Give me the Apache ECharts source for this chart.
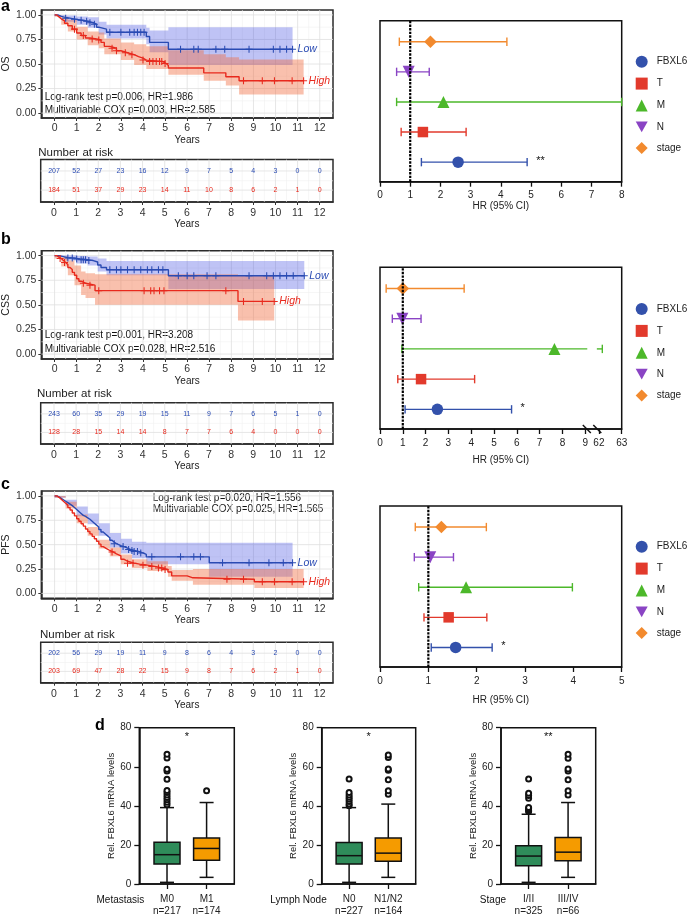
<!DOCTYPE html>
<html><head><meta charset="utf-8">
<script src="https://cdn.jsdelivr.net/npm/echarts@6/dist/echarts.min.js"></script>
<style>html,body{margin:0;padding:0;background:#fff}#c{width:688px;height:917px}</style>
</head><body><div id="c"></div>
<script>
// ================= DATA =================
const years = [0,1,2,3,4,5,6,7,8,9,10,11,12];
const survTicks = [0,0.25,0.5,0.75,1];

// Number at risk tables
const riskA_low  = [207,52,27,23,16,12,9,7,5,4,3,0,0];
const riskA_high = [184,51,37,29,23,14,11,10,8,6,2,1,0];
const riskB_low  = [243,60,35,29,19,15,11,9,7,6,5,1,0];
const riskB_high = [128,28,15,14,14,8,7,7,6,4,0,0,0];
const riskC_low  = [202,56,29,19,11,9,8,6,4,3,2,0,0];
const riskC_high = [203,69,47,28,22,15,9,8,7,6,2,1,0];

// KM step curves [time, survival]
const osLow = [[0,1],[0.15,0.985],[0.3,0.975],[0.5,0.965],[0.75,0.955],[1.0,0.945],[1.25,0.935],[1.5,0.92],[1.75,0.905],[1.9,0.875],[2.0,0.855],[2.35,0.823],[4.15,0.78],[4.3,0.72],[5.15,0.65],[10.77,0.65]];
const osHigh = [[0,1],[0.1,0.98],[0.2,0.96],[0.3,0.94],[0.45,0.915],[0.6,0.89],[0.8,0.855],[1.0,0.815],[1.2,0.79],[1.4,0.765],[1.6,0.755],[1.9,0.745],[2.1,0.72],[2.25,0.68],[2.5,0.66],[2.8,0.635],[3.0,0.615],[3.3,0.595],[3.6,0.575],[3.8,0.56],[4.0,0.54],[4.15,0.525],[4.9,0.505],[5.05,0.485],[5.15,0.46],[6.75,0.41],[7.75,0.37],[8.35,0.33],[11.27,0.33]];
const osLowCens = [0.5,0.9,1.2,1.45,1.6,1.8,2.5,3.0,3.4,3.6,3.75,3.9,4.05,5.7,6.3,6.5,7.3,7.7,8.8,9.9,10.2,10.5,10.77];
const osHighCens = [0.9,1.3,1.7,2.0,2.6,2.8,3.2,3.5,4.0,4.3,4.45,4.6,4.75,4.85,5.0,8.55,9.4,9.95,10.75,11.27];
// CI bands [time, lower, upper]; last entry = end time
const osLowBand = [[0,0.99,1],[0.5,0.93,0.995],[1.0,0.9,0.985],[1.5,0.87,0.975],[2.0,0.8,0.93],[2.35,0.76,0.9],[4.15,0.7,0.87],[4.3,0.62,0.84],[5.15,0.49,0.875],[10.77]];
const osHighBand = [[0,0.98,1],[0.3,0.9,0.98],[0.6,0.83,0.95],[1.0,0.75,0.88],[1.5,0.69,0.83],[2.0,0.66,0.82],[2.25,0.6,0.76],[3.0,0.54,0.72],[3.6,0.49,0.7],[4.15,0.45,0.68],[5.15,0.39,0.64],[6.75,0.33,0.6],[7.75,0.28,0.57],[8.35,0.19,0.545],[11.27]];

const cssLow = [[0,1],[0.2,0.99],[0.4,0.98],[0.6,0.975],[0.9,0.965],[1.2,0.958],[1.5,0.95],[1.75,0.935],[1.95,0.905],[2.1,0.88],[2.35,0.857],[5.15,0.795],[11.3,0.795]];
const cssHigh = [[0,1],[0.1,0.985],[0.2,0.97],[0.3,0.95],[0.4,0.93],[0.5,0.91],[0.6,0.88],[0.7,0.86],[0.8,0.83],[0.9,0.8],[1.0,0.765],[1.1,0.74],[1.2,0.72],[1.4,0.7],[1.83,0.644],[8.3,0.535],[9.94,0.535]];
const cssLowCens = [0.6,0.8,1.0,1.2,1.3,1.4,1.55,2.5,2.8,3.0,3.3,3.6,3.9,4.2,4.4,4.7,4.9,5.6,6.0,6.3,6.9,7.3,8.8,9.6,9.9,10.2,10.5,10.8,11.3];
const cssHighCens = [0.25,0.45,1.3,1.6,2.0,4.05,4.35,4.5,4.75,4.95,7.75,8.55,9.4,9.94];
const cssLowBand = [[0,0.99,1],[0.5,0.95,1.0],[1.0,0.92,0.995],[1.5,0.9,0.99],[1.95,0.84,0.97],[2.35,0.8,0.945],[5.15,0.66,0.945],[11.3]];
const cssHighBand = [[0,0.97,1],[0.3,0.89,0.99],[0.6,0.8,0.95],[0.9,0.7,0.9],[1.2,0.6,0.84],[1.4,0.57,0.82],[1.83,0.5,0.81],[8.3,0.34,0.8],[9.94]];

const pfsLow = [[0,1],[0.1,0.99],[0.2,0.975],[0.3,0.96],[0.4,0.945],[0.5,0.93],[0.6,0.915],[0.7,0.9],[0.8,0.88],[0.9,0.86],[1.0,0.84],[1.1,0.82],[1.2,0.8],[1.3,0.79],[1.4,0.775],[1.5,0.76],[1.6,0.74],[1.7,0.72],[1.8,0.7],[1.9,0.68],[2.0,0.655],[2.1,0.63],[2.2,0.61],[2.3,0.59],[2.4,0.57],[2.5,0.545],[2.6,0.525],[2.7,0.51],[2.8,0.5],[2.9,0.49],[3.0,0.48],[3.15,0.465],[3.3,0.45],[3.45,0.44],[3.6,0.43],[3.8,0.415],[4.0,0.4],[4.15,0.375],[7.0,0.315],[10.77,0.315]];
const pfsHigh = [[0,1],[0.1,0.985],[0.2,0.965],[0.3,0.945],[0.4,0.925],[0.5,0.905],[0.6,0.88],[0.7,0.855],[0.8,0.825],[0.9,0.795],[1.0,0.765],[1.1,0.74],[1.2,0.715],[1.3,0.69],[1.4,0.66],[1.5,0.635],[1.6,0.61],[1.7,0.585],[1.8,0.56],[1.9,0.535],[2.0,0.505],[2.1,0.48],[2.2,0.46],[2.35,0.44],[2.5,0.425],[2.65,0.405],[2.8,0.385],[3.0,0.35],[3.15,0.33],[3.3,0.31],[3.6,0.3],[3.85,0.29],[4.2,0.275],[4.6,0.26],[4.9,0.245],[5.13,0.22],[5.3,0.18],[6.0,0.16],[6.26,0.145],[9.04,0.12],[11.27,0.12]];
const pfsLowCens = [2.7,3.1,3.35,3.5,3.6,3.75,3.9,4.4,5.7,6.3,6.6,7.6,8.8,9.7,10.35,10.77];
const pfsHighCens = [2.6,3.3,3.55,4.0,4.4,4.7,4.85,5.0,7.8,8.55,9.4,9.95,10.75,11.27];
const pfsLowBand = [[0,0.98,1],[0.5,0.9,0.96],[1.0,0.79,0.89],[1.5,0.71,0.82],[2.0,0.59,0.72],[2.5,0.47,0.62],[3.0,0.41,0.56],[3.5,0.36,0.53],[4.15,0.3,0.52],[7.0,0.17,0.52],[10.77]];
const pfsHighBand = [[0,0.98,1],[0.5,0.87,0.94],[1.0,0.72,0.81],[1.5,0.59,0.68],[2.0,0.46,0.55],[2.5,0.38,0.47],[3.0,0.3,0.4],[3.5,0.26,0.35],[4.2,0.23,0.33],[5.13,0.17,0.28],[5.3,0.13,0.24],[6.26,0.09,0.25],[9.04,0.055,0.25],[11.27]];

// Forest plots (row order bottom->top)
const forestVars = ['FBXL6','T','M','N','stage'];
const forestA_hr = [2.585,1.42,2.1,0.95,1.67];
const forestA_lo = [1.37,0.7,0.55,0.55,0.64];
const forestA_hi = [4.87,2.85,8.0,1.63,4.2];
const forestB_hr = [2.516,1.8,7.65,0.98,1.0];
const forestB_lo = [1.1,0.78,0.96,0.54,0.27];
const forestB_hi = [5.77,4.15,62.15,1.8,3.69];
const forestC_hr = [1.565,1.42,1.78,1.04,1.27];
const forestC_lo = [1.06,0.91,0.8,0.71,0.73];
const forestC_hi = [2.32,2.21,3.98,1.52,2.2];
const forestStars = ['**','*','*'];
const forestTicksA = [0,1,2,3,4,5,6,7,8];
const forestTicksB = [0,1,2,3,4,5,6,7,8,9,62,63];
const forestTicksC = [0,1,2,3,4,5];

// Boxplots: [min, q1, median, q3, max]
const boxTitles = ['Metastasis','Lymph Node','Stage'];
const boxGroups = [['M0','M1'],['N0','N1/N2'],['I/II','III/IV']];
const boxN = [[217,174],[227,164],[325,66]];
const boxStats = [
  [[0.85,10.2,15.0,21.4,39.1],[3.4,12.1,18.2,23.5,41.7]],
  [[0.85,10.2,14.5,21.3,39.1],[3.4,11.6,15.8,23.5,40.9]],
  [[0.85,9.4,14.3,19.6,35.7],[3.4,11.9,16.3,23.8,41.7]]];
const boxOutliers = [
  [[40.5,41.9,43.1,44.3,45.6,46.8,47.8,53.6,57.9,58.7,64.5,66.4],[47.7]],
  [[40,41,42.2,43.4,44.4,45.6,46.8,53.8],[46,47.7,53.3,58.2,58.9,64.7,66]],
  [[37.1,37.6,38.5,39.1,43.9,45.3,46.5,53.8],[45.6,47.7,53.3,57.9,58.9,64.3,66.4]]];
const boxStars = ['*','*','**'];
const boxTicks = [0,20,40,60,80];

// ================= STYLE / BUILD =================
const FONT = 'Liberation Sans, Arial, Helvetica, sans-serif';
const BLUE = '#2a4bb3', RED = '#e8291d';
const BAND_BLUE = 'rgba(60,72,225,0.33)', BAND_RED = 'rgba(240,105,60,0.42)';
const FCOL = ['#3351ab','#e23a2c','#4cb82a','#8a44c4','#f28a2e'];
const FSYM = ['circle','rect','triangle','path://M0,0L10,0L5,9Z','diamond'];
const FSIZE = [11.5,10.5,12,12,12.5];
const BOXCOL = ['#2f8c5a','#f59b00'];
const PLUS = 'path://M4.25,0H5.75V4.25H10V5.75H5.75V10H4.25V5.75H0V4.25H4.25Z';
const halfYears = years.slice(0,-1).map(v=>v+0.5);
const yMinor = [0.125,0.375,0.625,0.875];

const grids=[], xAxes=[], yAxes=[], series=[], legends=[], gfx=[];
function addGrid(l,t,w,h,bc){grids.push({left:l,top:t,width:w,height:h,show:true,borderColor:bc,borderWidth:1.5,backgroundColor:'rgba(0,0,0,0)'});return grids.length-1;}
function stepAt(c,t){let s=c[0][1];for(const p of c){if(p[0]<=t+1e-9)s=p[1];else break;}return s;}
function seg(a,b,stroke,w,dash){return {type:'line',shape:{x1:a[0],y1:a[1],x2:b[0],y2:b[1]},style:{stroke:stroke,lineWidth:w,lineDash:dash||null}};}
function txt(x,y,text,o){gfx.push({type:'text',x:x,y:y,silent:true,style:Object.assign({text:text,fill:'#111',fontSize:10,fontFamily:FONT,align:'left',verticalAlign:'middle'},o||{})});}

function gridLines(g,xr,yr,xMaj,xMin,yMaj,yMin){
  return {type:'custom',xAxisIndex:g,yAxisIndex:g,silent:true,z:1,data:[[xr[0],yr[0]]],
    renderItem:(p,api)=>{const ch=[];
      xMin.forEach(v=>ch.push(seg(api.coord([v,yr[0]]),api.coord([v,yr[1]]),'#f0f0f0',0.6)));
      yMin.forEach(v=>ch.push(seg(api.coord([xr[0],v]),api.coord([xr[1],v]),'#f0f0f0',0.6)));
      xMaj.forEach(v=>ch.push(seg(api.coord([v,yr[0]]),api.coord([v,yr[1]]),'#e0e0e0',0.8)));
      yMaj.forEach(v=>ch.push(seg(api.coord([xr[0],v]),api.coord([xr[1],v]),'#e0e0e0',0.8)));
      return {type:'group',children:ch};}};
}
function bandSeries(g,band,color,z){
  return {type:'custom',xAxisIndex:g,yAxisIndex:g,silent:true,z:z,data:[[band[0][0],band[0][1]]],
    renderItem:(p,api)=>{const top=[],bot=[];
      for(let i=0;i<band.length-1;i++){const t0=band[i][0],t1=band[i+1][0];
        top.push(api.coord([t0,band[i][2]]),api.coord([t1,band[i][2]]));
        bot.push(api.coord([t0,band[i][1]]),api.coord([t1,band[i][1]]));}
      return {type:'polygon',shape:{points:top.concat(bot.reverse())},style:{fill:color}};}};
}
function kmLine(g,data,color,label){
  return {type:'line',xAxisIndex:g,yAxisIndex:g,data:data,step:'end',symbol:'none',z:4,silent:true,
    lineStyle:{color:color,width:1.4},
    endLabel:{show:true,formatter:label,color:color,fontStyle:'italic',fontSize:10.5,fontFamily:FONT,distance:5}};
}
function censSeries(g,curve,times,color){
  return {type:'scatter',xAxisIndex:g,yAxisIndex:g,silent:true,z:5,symbol:PLUS,symbolSize:7,itemStyle:{color:color,opacity:1},
    data:times.map(t=>[t,stepAt(curve,t)])};
}
function xYearsAxis(g,margin,nameGap){
  return {gridIndex:g,type:'value',min:-0.6,max:12.6,
    axisLine:{show:true,onZero:false,lineStyle:{color:'#2b2b2b',width:1.5}},
    axisTick:{show:true,customValues:years,length:3,lineStyle:{color:'#333',width:1}},
    axisLabel:{customValues:years,fontSize:10.5,color:'#333',margin:margin,fontFamily:FONT},
    splitLine:{show:false},name:'Years',nameLocation:'middle',nameGap:nameGap,
    nameTextStyle:{fontSize:10,color:'#222',fontFamily:FONT}};
}
function kmPanel(top,h,yName,low,high,lowBand,highBand,lowC,highC){
  const g=addGrid(40.7,top,292.3,h,'#2b2b2b');
  xAxes.push(xYearsAxis(g,5,16.5));
  yAxes.push({gridIndex:g,type:'value',min:-0.05,max:1.05,
    axisLine:{show:true,onZero:false,lineStyle:{color:'#2b2b2b',width:1.5}},
    axisTick:{show:true,customValues:survTicks,length:3,lineStyle:{color:'#333',width:1}},
    axisLabel:{customValues:survTicks,formatter:v=>Number(v).toFixed(2),fontSize:10.5,color:'#333',margin:5,fontFamily:FONT},
    splitLine:{show:false},name:yName,nameLocation:'middle',nameGap:29,
    nameTextStyle:{fontSize:10.5,color:'#222',fontFamily:FONT}});
  series.push(gridLines(g,[-0.6,12.6],[-0.05,1.05],years,halfYears,survTicks,yMinor));
  series.push(bandSeries(g,lowBand,BAND_BLUE,2));
  series.push(bandSeries(g,highBand,BAND_RED,3));
  series.push(kmLine(g,low,BLUE,'Low'));
  series.push(kmLine(g,high,RED,'High'));
  series.push(censSeries(g,low,lowC,BLUE));
  series.push(censSeries(g,high,highC,RED));
}
const RISK_ROWS=[0.27,0.72];
function riskText(g,counts,row,color){
  return {type:'custom',xAxisIndex:g,yAxisIndex:g,silent:true,z:5,data:years.map((t,i)=>[t,row,counts[i]]),
    renderItem:(p,api)=>{const c=api.coord([api.value(0),api.value(1)]);
      return {type:'text',x:c[0],y:c[1],style:{text:String(api.value(2)),fill:color,fontSize:7,fontFamily:FONT,align:'center',verticalAlign:'middle'}};}};
}
function riskPanel(top,h,lowN,highN){
  const g=addGrid(40.7,top,292.3,h,'#2b2b2b');
  xAxes.push(xYearsAxis(g,5.5,17));
  yAxes.push({gridIndex:g,type:'value',min:0,max:1,inverse:true,show:false});
  series.push(gridLines(g,[-0.6,12.6],[0,1],years,halfYears,RISK_ROWS,[0.5]));
  series.push(riskText(g,lowN,RISK_ROWS[0],BLUE));
  series.push(riskText(g,highN,RISK_ROWS[1],RED));
}
function forestPanel(top,h,xmax,hr,lo,hi,map,ticks,nameGap,legendTop,star,brk){
  const g=addGrid(380,top,241.7,h,'#111');
  const tv=ticks.map(map);
  xAxes.push({gridIndex:g,type:'value',min:0,max:xmax,
    axisLine:{show:true,onZero:false,lineStyle:{color:'#111',width:1.5}},
    axisTick:{show:true,customValues:tv,length:5,lineStyle:{color:'#111',width:1.3}},
    axisLabel:{customValues:tv,formatter:v=>{let k=0,d=1e9;tv.forEach((t,i)=>{if(Math.abs(t-v)<d){d=Math.abs(t-v);k=i;}});return String(ticks[k]);},
      fontSize:10,color:'#222',margin:9,fontFamily:FONT,showMaxLabel:true,showMinLabel:true},
    splitLine:{show:false},name:'HR (95% CI)',nameLocation:'middle',nameGap:nameGap,
    nameTextStyle:{fontSize:10,color:'#222',fontFamily:FONT}});
  yAxes.push({gridIndex:g,type:'value',min:-0.65,max:4.7,show:false});
  // error bars
  series.push({type:'custom',xAxisIndex:g,yAxisIndex:g,silent:true,z:3,
    data:forestVars.map((n,i)=>[map(lo[i]),i,map(hi[i]),i]),
    renderItem:(p,api)=>{const l=api.value(0),row=api.value(1),u=api.value(2),c=FCOL[api.value(3)];
      const a=api.coord([l,row]),b=api.coord([u,row]);const ch=[];
      if(brk&&u>brk[0]){ch.push(seg(a,api.coord([brk[0]+0.02,row]),c,1.4));ch.push(seg(api.coord([brk[1]-0.02,row]),b,c,1.4));}
      else ch.push(seg(a,b,c,1.4));
      ch.push(seg([a[0],a[1]-4.2],[a[0],a[1]+4.2],c,1.4));
      ch.push(seg([b[0],b[1]-4.2],[b[0],b[1]+4.2],c,1.4));
      return {type:'group',children:ch};}});
  // markers
  forestVars.forEach((n,i)=>series.push({type:'scatter',name:n,xAxisIndex:g,yAxisIndex:g,silent:true,z:6,
    symbol:FSYM[i],symbolSize:FSIZE[i],itemStyle:{color:FCOL[i],opacity:1},data:[[map(hr[i]),i]]}));
  // reference line HR=1 + star + axis break
  series.push({type:'custom',xAxisIndex:g,yAxisIndex:g,silent:true,z:7,data:[[1,0]],
    renderItem:(p,api)=>{const ch=[seg(api.coord([1,-0.65]),api.coord([1,4.7]),'#000',2.2,[2.4,1.2])];
      const s=api.coord([map(hi[0]),0]);
      ch.push({type:'text',x:s[0]+9,y:s[1]-1,style:{text:star,fill:'#111',fontSize:11,fontFamily:FONT,align:'left',verticalAlign:'middle'}});
      if(brk){[brk[0],brk[1]].forEach(v=>{const q=api.coord([v,-0.65]);ch.push(seg([q[0]-4,q[1]-4],[q[0]+4,q[1]+4],'#111',1.5));});}
      return {type:'group',children:ch};}});
  legends.push({orient:'vertical',left:635.7,top:legendTop,padding:0,itemWidth:12,itemHeight:12,itemGap:9.9,selectedMode:false,
    textStyle:{fontSize:10,color:'#222',fontFamily:FONT,padding:[0,0,0,4]},
    data:forestVars.map((n,i)=>({name:n,icon:FSYM[i],itemStyle:{color:FCOL[i]}}))});
}
function boxPanel(k,left,width){
  const g=addGrid(left,727.7,width,156.6,'#111');
  xAxes.push({gridIndex:g,type:'value',min:-0.7,max:1.7,
    axisLine:{show:true,onZero:false,lineStyle:{color:'#111',width:1.5}},
    axisTick:{show:true,customValues:[0,1],length:5,lineStyle:{color:'#111',width:1.3}},
    axisLabel:{customValues:[0,1],formatter:v=>boxGroups[k][Math.round(v)]+'\nn='+boxN[k][Math.round(v)],fontSize:10,lineHeight:12,color:'#222',margin:9,fontFamily:FONT},
    splitLine:{show:false}});
  yAxes.push({gridIndex:g,type:'value',min:0,max:80,interval:20,
    axisLine:{show:true,onZero:false,lineStyle:{color:'#111',width:1.5}},
    axisTick:{show:true,customValues:boxTicks,length:5,lineStyle:{color:'#111',width:1.3}},
    axisLabel:{customValues:boxTicks,fontSize:10,color:'#222',margin:8,fontFamily:FONT},
    splitLine:{show:false},name:'Rel. FBXL6 mRNA levels',nameLocation:'middle',nameGap:23,
    nameTextStyle:{fontSize:9.5,color:'#222',fontFamily:FONT}});
  series.push({type:'custom',xAxisIndex:g,yAxisIndex:g,silent:true,z:3,
    data:boxStats[k].map((s,i)=>[i].concat(s)),
    renderItem:(p,api)=>{const x=api.value(0),ci=Math.round(x);
      const pm=api.coord([x,api.value(1)]),p1=api.coord([x,api.value(2)]),pd=api.coord([x,api.value(3)]),p3=api.coord([x,api.value(4)]),px=api.coord([x,api.value(5)]);
      const hw=13,cw=7,K='#111';
      return {type:'group',children:[
        seg(pm,p1,K,1.5),seg(p3,px,K,1.5),
        seg([pm[0]-cw,pm[1]],[pm[0]+cw,pm[1]],K,1.5),seg([px[0]-cw,px[1]],[px[0]+cw,px[1]],K,1.5),
        {type:'rect',shape:{x:p3[0]-hw,y:p3[1],width:2*hw,height:p1[1]-p3[1]},style:{fill:BOXCOL[ci],stroke:K,lineWidth:1.5}},
        seg([pd[0]-hw,pd[1]],[pd[0]+hw,pd[1]],K,1.5)]};}});
  const outs=[];boxOutliers[k].forEach((arr,i)=>arr.forEach(v=>outs.push([i,v])));
  series.push({type:'scatter',xAxisIndex:g,yAxisIndex:g,silent:true,z:4,symbol:'emptyCircle',symbolSize:5,
    itemStyle:{color:'#111',borderColor:'#111',borderWidth:1.6,opacity:1},data:outs});
  series.push({type:'custom',xAxisIndex:g,yAxisIndex:g,silent:true,z:5,data:[[0.5,80]],
    renderItem:(p,api)=>{const c=api.coord([0.5,80]);
      return {type:'text',x:c[0],y:c[1]+9,style:{text:boxStars[k],fill:'#111',fontSize:11,fontFamily:FONT,align:'center',verticalAlign:'middle'}};}});
  txt(left+5,900,boxTitles[k],{align:'right'});
}

// ---- panels ----
kmPanel(10,108,'OS',osLow,osHigh,osLowBand,osHighBand,osLowCens,osHighCens);
riskPanel(159.5,42.5,riskA_low,riskA_high);
kmPanel(250.7,108.3,'CSS',cssLow,cssHigh,cssLowBand,cssHighBand,cssLowCens,cssHighCens);
riskPanel(402.7,41.3,riskB_low,riskB_high);
kmPanel(491,107.3,'PFS',pfsLow,pfsHigh,pfsLowBand,pfsHighBand,pfsLowCens,pfsHighCens);
riskPanel(642.3,40.4,riskC_low,riskC_high);

const idMap=v=>v;
const brkMap=v=>v>9.5?Math.round((v-52.4)*1000)/1000:v;
forestPanel(20.7,161,8,forestA_hr,forestA_lo,forestA_hi,idMap,forestTicksA,20,55.7,forestStars[0],null);
forestPanel(267.3,161.7,10.6,forestB_hr,forestB_lo,forestB_hi,brkMap,forestTicksB,26,303,forestStars[1],[9.07,9.53]);
forestPanel(506,161,5,forestC_hr,forestC_lo,forestC_hi,idMap,forestTicksC,28,540.7,forestStars[2],null);

boxPanel(0,139.3,95);
boxPanel(1,321.7,94);
boxPanel(2,501,94.7);

// ---- texts ----
const L={fontSize:16,fontWeight:'bold',fill:'#000'};
txt(1,6.5,'a',L); txt(1,239.4,'b',L); txt(1,484.4,'c',L); txt(95,726,'d',L);
const NR={fontSize:11.5,fill:'#222'};
txt(38.3,153.3,'Number at risk',NR); txt(37,394,'Number at risk',NR); txt(40,635.3,'Number at risk',NR);
const AN={fontSize:10,fill:'#111'};
txt(44.7,97.7,'Log-rank test p=0.006, HR=1.986',AN); txt(44.7,110,'Multivariable COX p=0.003, HR=2.585',AN);
txt(44.7,335.5,'Log-rank test p=0.001, HR=3.208',AN); txt(44.7,349,'Multivariable COX p=0.028, HR=2.516',AN);
txt(152.7,498,'Log-rank test p=0.020, HR=1.556',AN); txt(152.7,509.5,'Multivariable COX p=0.025, HR=1.565',AN);

const chart=echarts.init(document.getElementById('c'),null,{renderer:'canvas'});
chart.setOption({animation:false,textStyle:{fontFamily:FONT},grid:grids,xAxis:xAxes,yAxis:yAxes,series:series,legend:legends,graphic:{elements:gfx}});
</script></body></html>
